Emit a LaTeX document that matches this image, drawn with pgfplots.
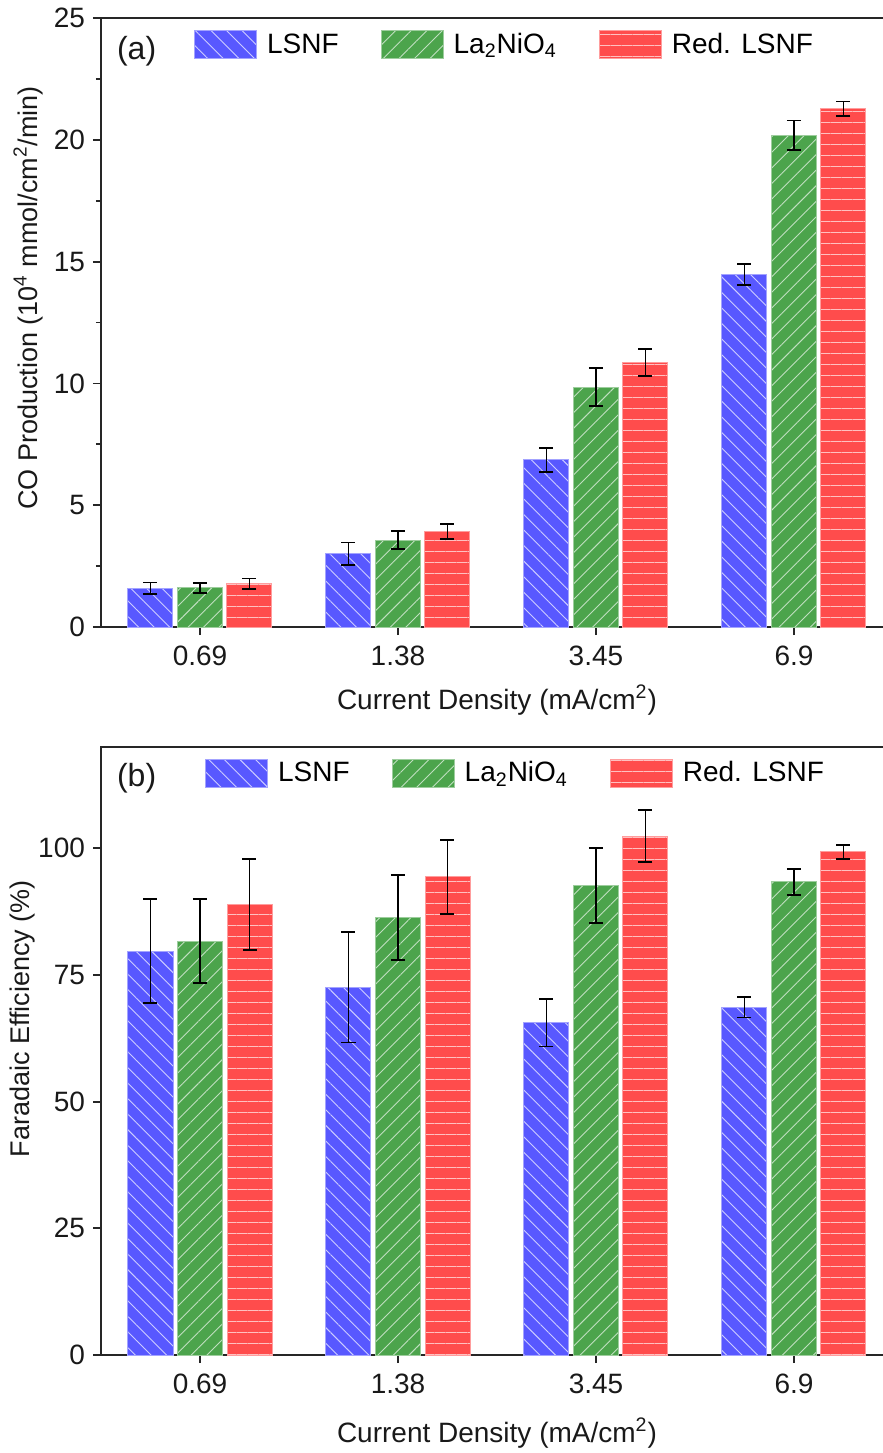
\documentclass[border=0pt]{standalone}
\usepackage{pgfplots}
\pgfplotsset{compat=1.18}
\usepackage{fontspec}
\setmainfont{Liberation Sans}
\usetikzlibrary{patterns.meta}

\definecolor{cblue}{RGB}{88,88,255}
\definecolor{cgreen}{RGB}{76,164,76}
\definecolor{cred}{RGB}{255,76,76}

\pgfplotsset{
  /pgfplots/ybar legend/.style={
    /pgfplots/legend image code/.code={\draw[##1] (0pt,-7pt) rectangle (31pt,7pt);}},
  barLSNF/.style={fill=cblue, draw=cblue!55!white, line width=0.5pt,
    postaction={pattern={Lines[angle=-45,distance=5.5pt,line width=0.45pt]}, pattern color=white!70!cblue}},
  barLNO/.style={fill=cgreen, draw=cgreen!55!white, line width=0.5pt,
    postaction={pattern={Lines[angle=45,distance=5.5pt,line width=0.45pt]}, pattern color=white!65!cgreen}},
  barRED/.style={fill=cred, draw=cred!55!white, line width=0.5pt,
    postaction={pattern={Lines[angle=0,distance=5.5pt,line width=0.45pt]}, pattern color=white!65!cred}},
  myerr/.style={error bars/.cd, y dir=both, y explicit,
    error bar style={line width=0.6pt, black},
    error mark options={rotate=90, mark size=3.5pt, line width=0.9pt, black}},
  common/.style={
    scale only axis, width=396pt, height=304.5pt,
    xmin=-0.5, xmax=3.5, xtick={0,1,2,3},
    xticklabels={0.69,1.38,3.45,6.9},
    ybar=2.25pt, bar width=22.5pt,
    tick align=outside, xtick pos=bottom, ytick pos=left,
    major tick length=4pt, minor tick length=2.5pt,
    axis line style={line width=0.9pt, black!85},
    every tick/.style={line width=0.9pt, black!85},
    tick label style={font=\fontsize{14}{16}\selectfont, text=black!90},
    xticklabel style={yshift=-2pt},
    yticklabel style={xshift=-0.5pt},
    /pgf/number format/assume math mode=true,
    label style={font=\fontsize{14}{16}\selectfont, text=black!90},
    ylabel style={font=\fontsize{13.5}{16}\selectfont},
    legend style={draw=none, fill=none, inner sep=0pt, anchor=west,
      legend columns=-1, font=\fontsize{14}{16}\selectfont,
      /tikz/every odd column/.append style={column sep=3pt},
      /tikz/every even column/.append style={column sep=19pt}},
  }
}

\begin{document}
\begin{tikzpicture}
\useasboundingbox (0pt,0pt) rectangle (441.5pt,-726.5pt);

% ---------------- (a) ----------------
\begin{axis}[common,
  at={(50.5pt,-313.5pt)}, anchor=south west,
  ymin=0, ymax=25, ytick={0,5,10,15,20,25}, minor ytick={2.5,7.5,12.5,17.5,22.5},
  ylabel={CO Production (10\textsuperscript{4} mmol/cm\textsuperscript{2}/min)},
  ylabel style={at={(axis description cs:-0.092,0.54)}, anchor=center},
  xlabel={Current Density (mA/cm\textsuperscript{2})},
  xlabel style={at={(axis description cs:0.5,-0.12)}, anchor=center},
  legend style={at={(0.117,0.956)}},
]
\addplot[barLSNF, myerr] coordinates {
  (0,1.60) +- (0,0.23)
  (1,3.00) +- (0,0.47)
  (2,6.86) +- (0,0.50)
  (3,14.47) +- (0,0.44)
};
\addlegendentry{LSNF}
\addplot[barLNO, myerr] coordinates {
  (0,1.61) +- (0,0.20)
  (1,3.56) +- (0,0.37)
  (2,9.85) +- (0,0.78)
  (3,20.19) +- (0,0.60)
};
\addlegendentry{La\textsubscript{2}NiO\textsubscript{4}}
\addplot[barRED, myerr] coordinates {
  (0,1.77) +- (0,0.22)
  (1,3.93) +- (0,0.31)
  (2,10.85) +- (0,0.56)
  (3,21.28) +- (0,0.29)
};
\addlegendentry{Red. LSNF}
\node[font=\fontsize{16}{18}\selectfont, text=black!90] at (axis description cs:0.045,0.946) {(a)};
\end{axis}

% ---------------- (b) ----------------
\begin{axis}[common,
  at={(50.5pt,-677.5pt)}, anchor=south west,
  height=304pt,
  ymin=0, ymax=120, ytick={0,25,50,75,100},
  ylabel={Faradaic Efficiency (\%)},
  ylabel style={at={(axis description cs:-0.099,0.553)}, anchor=center},
  xlabel={Current Density (mA/cm\textsuperscript{2})},
  xlabel style={at={(axis description cs:0.5,-0.128)}, anchor=center},
  legend style={at={(0.131,0.957)}},
]
\addplot[barLSNF, myerr] coordinates {
  (0,79.7) +- (0,10.3)
  (1,72.6) +- (0,10.9)
  (2,65.6) +- (0,4.7)
  (3,68.6) +- (0,2.0)
};
\addlegendentry{LSNF}
\addplot[barLNO, myerr] coordinates {
  (0,81.7) +- (0,8.3)
  (1,86.3) +- (0,8.4)
  (2,92.7) +- (0,7.4)
  (3,93.4) +- (0,2.6)
};
\addlegendentry{La\textsubscript{2}NiO\textsubscript{4}}
\addplot[barRED, myerr] coordinates {
  (0,88.9) +- (0,9.0)
  (1,94.4) +- (0,7.3)
  (2,102.4) +- (0,5.1)
  (3,99.3) +- (0,1.4)
};
\addlegendentry{Red. LSNF}
\node[font=\fontsize{16}{18}\selectfont, text=black!90] at (axis description cs:0.045,0.949) {(b)};
\end{axis}
\end{tikzpicture}
\end{document}
